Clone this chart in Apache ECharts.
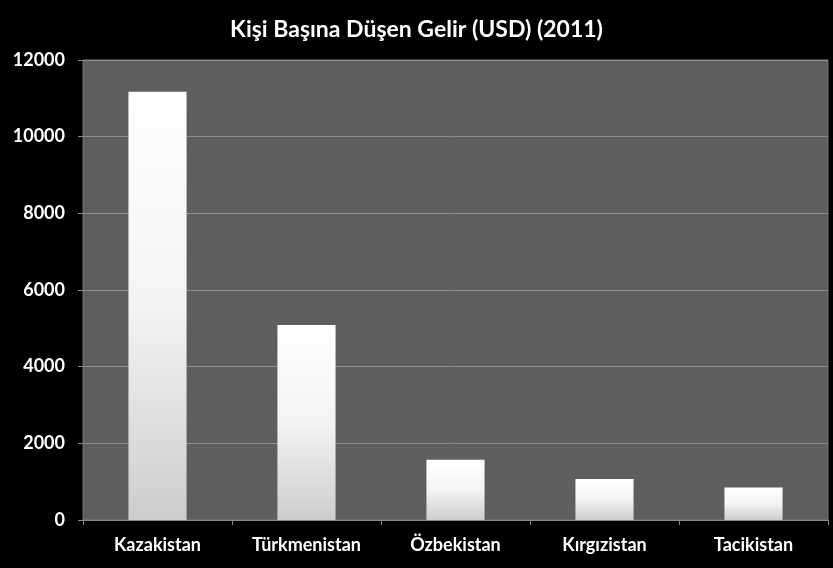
<!DOCTYPE html>
<html>
<head>
<meta charset="utf-8">
<script src="https://cdn.jsdelivr.net/npm/echarts@6/dist/echarts.min.js"></script>
<style>
  html, body { margin: 0; padding: 0; background: #000; }
  #chart { width: 833px; height: 568px; }
</style>
</head>
<body>
<div id="chart"></div>
<script>
const countries = ['Kazakistan', 'Türkmenistan', 'Özbekistan', 'Kırgızistan', 'Tacikistan'];
const income = [11170, 5090, 1570, 1070, 850];

const chart = echarts.init(document.getElementById('chart'));

const option = {
  backgroundColor: '#000',
  animation: false,
  title: {
    text: 'Kişi Başına Düşen Gelir (USD) (2011)',
    left: 'center',
    top: 13,
    textStyle: { color: '#fff', fontFamily: 'Lato', fontWeight: 'bold', fontSize: 23 }
  },
  grid: {
    left: 83, right: 5, top: 60, bottom: 48,
    show: true,
    backgroundColor: '#5e5e5e',
    borderColor: '#777',
    borderWidth: 1
  },
  xAxis: {
    type: 'category',
    data: countries,
    axisLine: { lineStyle: { color: '#888' } },
    axisTick: { show: true, length: 5, lineStyle: { color: '#888' } },
    axisLabel: { color: '#fff', fontFamily: 'Lato', fontWeight: 'bold', fontSize: 18, margin: 16 }
  },
  yAxis: {
    type: 'value',
    min: 0,
    max: 12000,
    interval: 2000,
    axisLine: { show: false },
    axisTick: { show: true, length: 5, lineStyle: { color: '#888' } },
    axisLabel: {
      color: '#fff', fontFamily: 'Lato', fontWeight: 'bold', fontSize: 18, margin: 18,
      formatter: v => String(v)
    },
    splitLine: { lineStyle: { color: '#8c8c8c', width: 1 } }
  },
  series: [{
    type: 'bar',
    data: income,
    barWidth: '39%',
    itemStyle: {
      color: new echarts.graphic.LinearGradient(0, 0, 0, 1, [
        { offset: 0, color: '#ffffff' },
        { offset: 0.5, color: '#f4f4f4' },
        { offset: 1, color: '#cdcdcd' }
      ])
    }
  }]
};

chart.setOption(option);
</script>
</body>
</html>
